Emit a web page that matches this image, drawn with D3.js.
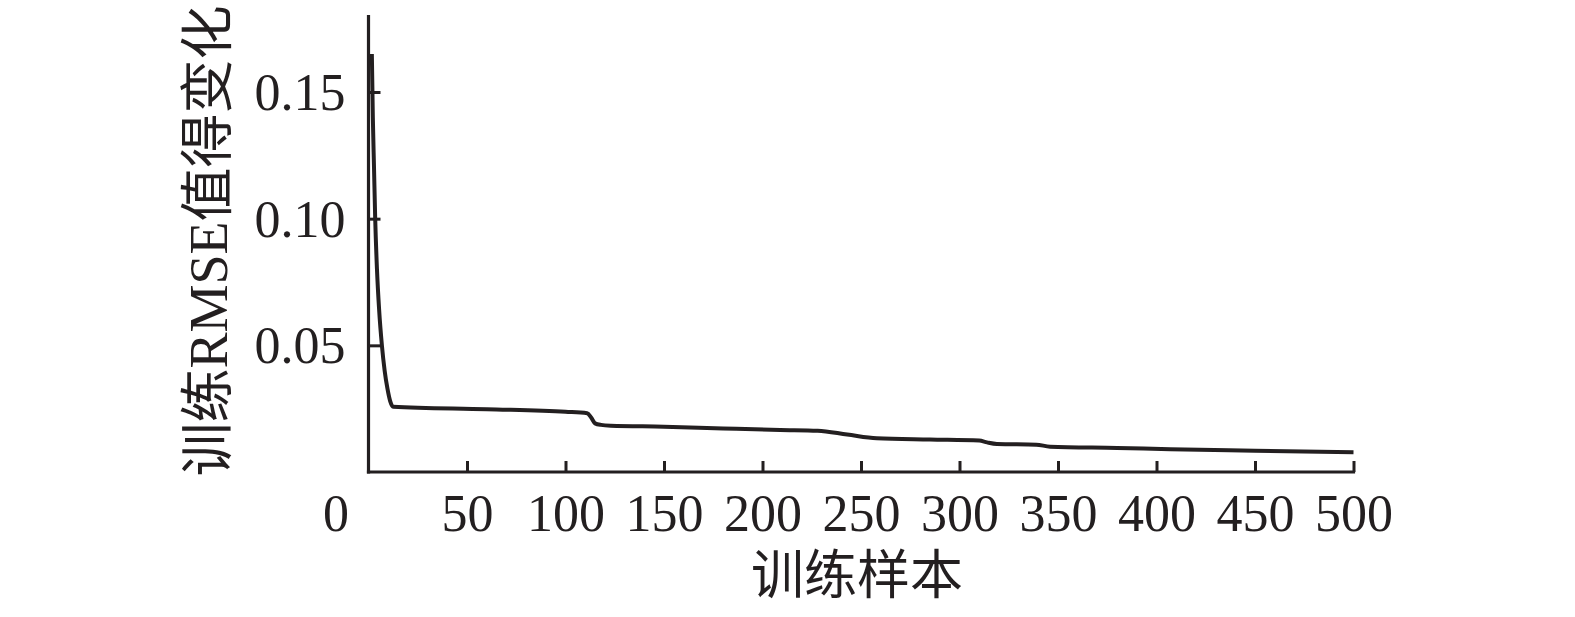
<!DOCTYPE html>
<html><head><meta charset="utf-8">
<script src="https://cdn.jsdelivr.net/npm/d3@7"></script>
<style>
html,body{margin:0;padding:0;background:#fff;}
svg text{fill:#231f20;}
</style></head>
<body>
<svg id="chart" width="1575" height="617"></svg>
<script>
const sampleX = [1.7, 2.2, 2.8, 3.4, 4.3, 5.4, 6.8, 8.2, 9.6, 11.0, 12.5, 60, 100, 111, 113, 115, 118, 123, 150, 180, 209, 228, 243, 258, 285, 310, 314, 319, 339, 346, 380, 407, 450, 500];
const rmseY   = [0.165, 0.14, 0.12, 0.10, 0.08, 0.064, 0.05, 0.04, 0.033, 0.028, 0.0258, 0.0248, 0.0238, 0.0232, 0.0215, 0.0192, 0.0186, 0.0183, 0.0179, 0.0172, 0.0166, 0.0163, 0.0148, 0.0133, 0.0128, 0.0124, 0.0117, 0.0111, 0.0108, 0.0100, 0.0095, 0.0090, 0.0084, 0.0078];
const xTicks = [0, 50, 100, 150, 200, 250, 300, 350, 400, 450, 500];
const yTicks = [0.05, 0.10, 0.15];
const xTitle = "训练样本";
const yTitle = "训练RMSE值得变化";

const ink = "#231f20";
const font = "'Liberation Serif', 'Times New Roman', 'Noto Sans CJK SC', serif";
const svg = d3.select("#chart");
const x = d3.scaleLinear().domain([0, 500]).range([368.5, 1353.5]);
const y = d3.scaleLinear().domain([0, 0.18]).range([472, 16]);

// axes
const gx = svg.append("g").attr("transform", `translate(0,${y(0)})`)
  .call(d3.axisBottom(x).tickValues(xTicks).tickSize(-11).tickSizeOuter(0).tickPadding(24).tickFormat(d3.format("d")));
const gy = svg.append("g").attr("transform", `translate(${x(0)},0)`)
  .call(d3.axisLeft(y).tickValues(yTicks).tickSize(-12).tickSizeOuter(0).tickPadding(24).tickFormat(d3.format(".2f")));

[gx, gy].forEach(g => {
  g.select(".domain").attr("stroke", ink).attr("stroke-width", 3.2);
  g.selectAll(".tick line").attr("stroke", ink).attr("stroke-width", 3);
  g.selectAll(".tick text").attr("font-family", font).attr("font-size", 52).attr("fill", ink);
});
gx.selectAll(".tick text").attr("dy", null).attr("y", 59);
gx.selectAll(".tick").filter(d => d === 0).select("text").attr("x", -33);
gx.selectAll(".tick").filter(d => d === 0).select("line").remove();
gy.selectAll(".tick text").attr("dy", null).attr("dominant-baseline", "central").attr("x", -23);
// axis lines
gy.select(".domain").attr("d", `M0,${y(0) + 1.6}V15`);
gx.select(".domain").attr("d", `M${x(0) - 1.6},0H${x(500) + 1.6}`);

// line
const line = d3.line().x((d, i) => x(sampleX[i])).y(d => y(d)).curve(d3.curveMonotoneX);
svg.append("path").datum(rmseY).attr("d", line)
  .attr("fill", "none").attr("stroke", ink).attr("stroke-width", 4).attr("stroke-linejoin", "round");

// titles
svg.append("text").attr("x", 857).attr("y", 576).attr("text-anchor", "middle")
  .attr("dominant-baseline", "central").attr("font-family", font).attr("font-size", 53).text(xTitle);
svg.append("text").attr("transform", "translate(209,241) rotate(-90)").attr("text-anchor", "middle")
  .attr("dominant-baseline", "central").attr("font-family", font).attr("font-size", 54).text(yTitle);
</script>
</body></html>
